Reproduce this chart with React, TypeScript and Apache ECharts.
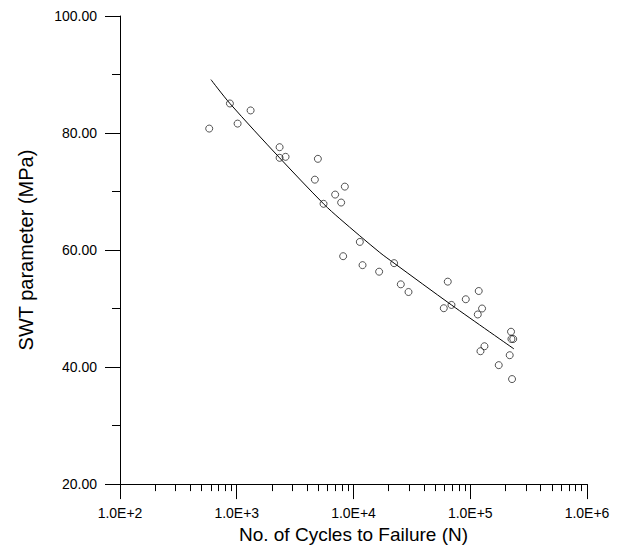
import React, { useEffect, useRef } from "react";
import * as echarts from "echarts";

// Measured data points: [cycles to failure N, SWT parameter MPa]
const cycles: number[] = [
  581, 874, 1017, 1314, 2328, 2328, 2619, 4953, 4668, 8430, 6963, 7839, 5540,
  11330, 8153, 11950, 16580, 22280, 25420, 29590, 64180, 59340, 69050, 91540,
  118200, 126200, 116000, 223500, 225300, 233400, 132300, 122300, 217800,
  175400, 228000,
];
const swt: number[] = [
  80.76, 85.05, 81.61, 83.86, 77.58, 75.76, 75.93, 75.59, 72.03, 70.84, 69.48,
  68.12, 67.9, 61.39, 58.95, 57.42, 56.3, 57.76, 54.14, 52.83, 54.6, 50.06,
  50.62, 51.59, 53.0, 50.01, 48.99, 46.04, 44.8, 44.8, 43.56, 42.71, 42.03,
  40.33, 37.95,
];

// Fitted curve
const fitCycles: number[] = [601, 874, 2328, 5540, 7640, 16800, 22280, 69000, 237000];
const fitSwt: number[] = [89.13, 85.05, 75.76, 67.9, 65.35, 59.58, 57.76, 50.62, 43.1];

const xMin = 100;
const xMax = 1000000;
const yMin = 20;
const yMax = 100;
const yInterval = 20;

const FONT = "Liberation Sans, Arial, sans-serif";

function fmtExp(v: number): string {
  const e = Math.round(Math.log10(v));
  const m = v / Math.pow(10, e);
  return m.toFixed(1) + "E+" + e;
}

export default function App() {
  const ref = useRef<HTMLDivElement>(null);
  useEffect(() => {
    if (!ref.current) return;
    const chart = echarts.init(ref.current, undefined, { renderer: "svg" });
    const axisLine = { show: true, lineStyle: { color: "#000", width: 1 } };
    chart.setOption({
      animation: false,
      backgroundColor: "#fff",
      grid: { left: 120, right: 32, top: 16, bottom: 62, containLabel: false },
      xAxis: {
        type: "log",
        logBase: 10,
        min: xMin,
        max: xMax,
        splitNumber: 4,
        name: "No. of Cycles to Failure (N)",
        nameLocation: "middle",
        nameGap: 40,
        nameTextStyle: { color: "#000", fontSize: 19, fontFamily: FONT },
        axisLine,
        axisTick: { show: true, length: 15, lineStyle: { color: "#000", width: 1 } },
        minorTick: { show: true, splitNumber: 9, length: 7, lineStyle: { color: "#000", width: 1 } },
        splitLine: { show: false },
        minorSplitLine: { show: false },
        axisLabel: {
          color: "#000",
          fontSize: 14,
          fontFamily: FONT,
          margin: 22,
          formatter: (v: number) => fmtExp(v),
        },
      },
      yAxis: {
        type: "value",
        min: yMin,
        max: yMax,
        interval: yInterval,
        name: "SWT parameter (MPa)",
        nameLocation: "middle",
        nameGap: 84,
        nameTextStyle: { color: "#000", fontSize: 20, fontFamily: FONT },
        axisLine,
        axisTick: { show: true, length: 15, lineStyle: { color: "#000", width: 1 } },
        minorTick: { show: true, splitNumber: 2, length: 8, lineStyle: { color: "#000", width: 1 } },
        splitLine: { show: false },
        axisLabel: {
          color: "#000",
          fontSize: 14,
          fontFamily: FONT,
          margin: 23,
          formatter: (v: number) => v.toFixed(2),
        },
      },
      series: [
        {
          type: "line",
          data: fitCycles.map((c, i) => [c, fitSwt[i]]),
          smooth: 0.3,
          showSymbol: false,
          symbol: "none",
          lineStyle: { color: "#000", width: 1 },
          z: 2,
        },
        {
          type: "scatter",
          data: cycles.map((c, i) => [c, swt[i]]),
          symbol: "circle",
          symbolSize: 7,
          itemStyle: { color: "rgba(255,255,255,0)", borderColor: "#111", borderWidth: 0.9 },
          z: 3,
        },
      ],
    });
    return () => chart.dispose();
  }, []);
  return (
    <div
      ref={ref}
      style={{ position: "fixed", left: 0, top: 0, width: 619, height: 549, background: "#fff" }}
    />
  );
}
